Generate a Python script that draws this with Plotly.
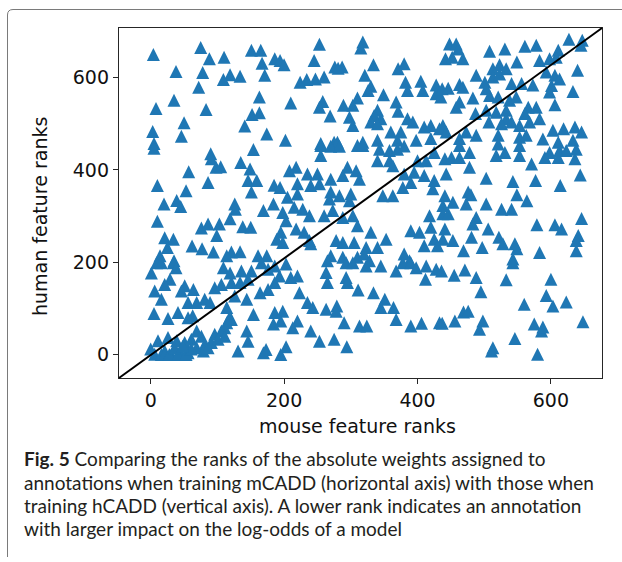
import plotly.graph_objects as go

# ---- data: (mouse feature rank, human feature rank) ----
mouse_rank = [
    # top-left block
    4, 75, 38, 88, 110, 78, 119, 109, 134, 151, 165, 167, 186, 171, 72, 163, 35, 8, 83, 152, 163, 50, 141, 3, 46, 174, 5,
    # top-middle block
    253, 318, 315, 194, 200, 245, 276, 287, 281, 334, 371, 380, 224, 234, 247, 260, 321, 382, 405, 428, 330, 326, 210, 258,
    253, 310, 349, 385, 408, 428, 435, 289, 303, 269, 340, 335, 345, 368, 371, 298, 303, 330, 340, 385, 393, 410, 420, 433,
    360, 375, 202, 255, 275, 280, 318, 340, 370, 398, 420,
    # top-right block
    448, 458, 461, 442, 452, 468, 508, 531, 561, 578, 627, 647, 645, 611, 608, 583, 598, 549, 523, 513, 533, 640, 488, 513,
    523, 593, 606, 613, 437, 446, 463, 468, 501, 503, 541, 556, 573, 601, 598, 633, 483, 508, 521, 538, 548, 566, 578, 561,
    606, 458, 463, 487, 503, 518, 533, 533, 507, 526, 541, 553, 568, 583, 438, 443, 473, 488, 463, 521, 553, 563, 603, 619,
    636, 646, 588, 611, 633,
    # middle-left block
    5, 90, 91, 98, 105, 154, 135, 149, 146, 159, 151, 185, 57, 86, 10, 53, 20, 39, 45, 126, 127, 169, 184, 119, 10, 76, 86,
    103, 99, 138, 150, 21, 34, 25, 62, 77, 94, 121, 134, 114, 161, 174, 189, 14, 35,
    # centre block
    255, 270, 283, 310, 318, 255, 343, 358, 370, 380, 340, 358, 363, 400, 413, 425, 208, 218, 235, 250, 270, 295, 308, 288,
    313, 380, 395, 390, 378, 410, 425, 423, 220, 240, 253, 220, 205, 270, 268, 283, 300, 298, 348, 363, 194, 215, 228, 238,
    260, 273, 198, 203, 288, 303, 310, 218, 230, 195, 198, 240, 238, 278, 288, 330, 353, 305, 323, 340, 270, 288, 310, 320,
    380, 388, 390, 403, 420, 418, 425, 430, 410,
    # middle-right block
    463, 478, 441, 451, 463, 518, 531, 521, 553, 553, 571, 591, 598, 611, 613, 623, 636, 638, 478, 443, 503, 543, 577, 614,
    644, 476, 480, 441, 453, 438, 473, 503, 549, 564, 526, 541, 438, 446, 488, 483, 441, 506, 579, 606, 616, 646, 481, 453,
    438, 522, 528, 546, 549, 497, 469, 583, 638, 641, 638, 543,
    # bottom-left block
    1, 9, 16, 34, 38, 29, 21, 6, 16, 51, 64, 46, 56, 5, 26, 41, 56, 63, 69, 81, 89, 96, 106, 109, 119, 136, 151, 166, 176,
    186, 121, 134, 146, 126, 144, 164, 176, 186, 114, 121, 111, 154, 186, 184, 144, 146, 131, 169, 173,
    0, 6, 11, 21, 26, 31, 39, 44, 51, 56, 61, 69, 76, 81, 69, 91, 96, 106, 114, 118, 16, 21, 28, 41, 53, 79, 86, 61, 36, 48,
    101, 111,
    # bottom-middle block
    203, 193, 265, 263, 265, 293, 303, 293, 295, 323, 328, 345, 368, 378, 390, 398, 413, 428, 210, 220, 412, 223, 235, 243,
    263, 279, 278, 311, 334, 351, 345, 364, 368, 198, 195, 220, 213, 290, 313, 324, 390, 406, 240, 253, 275, 294, 203, 195,
    433,
    # bottom-right block
    543, 436, 455, 471, 488, 533, 600, 495, 593, 603, 623, 560, 469, 476, 437, 456, 498, 493, 575, 586, 588, 648, 546, 513,
    511, 580,
]

human_rank = [
    # top-left block
    650, 665, 613, 641, 644, 611, 606, 596, 603, 659, 659, 631, 641, 605, 579, 558, 551, 533, 531, 520, 524, 502, 495, 483,
    473, 478, 457,
    # top-middle block
    672, 677, 664, 637, 628, 637, 623, 623, 620, 628, 619, 630, 590, 596, 597, 601, 605, 590, 592, 584, 581, 572, 545, 548,
    536, 556, 563, 572, 572, 565, 558, 540, 540, 517, 529, 518, 511, 547, 527, 514, 496, 504, 500, 511, 504, 493, 496, 489,
    482, 482, 464, 457, 460, 460, 460, 464, 464, 464, 468,
    # top-right block
    673, 673, 662, 641, 644, 641, 657, 662, 668, 670, 683, 681, 670, 659, 644, 637, 641, 634, 628, 619, 619, 616, 605, 601,
    608, 612, 605, 597, 576, 577, 585, 579, 590, 576, 587, 587, 584, 583, 569, 570, 556, 561, 558, 551, 558, 536, 536, 522,
    541, 536, 547, 522, 529, 525, 529, 511, 504, 500, 504, 496, 504, 511, 496, 482, 482, 475, 468, 475, 471, 475, 486, 489,
    493, 482, 467, 460, 464,
    # middle-left block
    447, 435, 424, 406, 407, 444, 416, 402, 377, 377, 352, 367, 396, 373, 366, 355, 326, 334, 321, 326, 315, 312, 326, 294,
    289, 274, 283, 283, 258, 277, 276, 253, 250, 232, 235, 229, 222, 222, 223, 214, 214, 214, 250, 214, 203,
    # centre block
    453, 451, 451, 453, 453, 431, 445, 442, 445, 452, 420, 420, 409, 420, 420, 438, 398, 406, 391, 391, 380, 406, 398, 388,
    380, 391, 395, 373, 362, 388, 377, 359, 370, 366, 370, 348, 341, 352, 337, 344, 348, 333, 344, 344, 362, 319, 315, 301,
    301, 312, 308, 290, 297, 301, 279, 272, 265, 265, 243, 240, 247, 247, 243, 265, 250, 243, 232, 232, 214, 211, 211, 218,
    218, 203, 268, 265, 276, 301, 250, 236, 236,
    # middle-right block
    453, 438, 424, 427, 427, 431, 438, 456, 431, 453, 413, 427, 438, 427, 442, 442, 424, 445, 406, 391, 382, 375, 377, 366,
    389, 352, 346, 344, 330, 323, 326, 326, 346, 333, 315, 315, 305, 305, 297, 283, 272, 272, 281, 281, 272, 295, 254, 247,
    250, 254, 240, 240, 229, 232, 225, 221, 225, 258, 247, 207,
    # bottom-left block
    177, 199, 199, 199, 188, 163, 152, 138, 120, 149, 141, 138, 113, 89, 78, 91, 80, 84, 113, 120, 113, 145, 152, 188, 177,
    181, 181, 199, 185, 192, 156, 156, 163, 127, 120, 134, 141, 156, 102, 76, 58, 87, 91, 66, 51, 29, 8, 4, 11,
    12, 1, 30, 8, 37, 1, 30, 8, 26, 4, 33, 15, 40, 22, 51, 26, 44, 51, 69, 80, 0, 0, 0, 0, 0, 8, 15, 12, 15, 18,
    33, 40,
    # bottom-middle block
    196, 170, 203, 178, 156, 199, 199, 167, 156, 192, 203, 192, 181, 199, 199, 188, 192, 185, 167, 170, 163, 134, 113, 102,
    98, 105, 94, 140, 134, 120, 102, 102, 76, 94, 73, 73, 58, 69, 62, 62, 62, 68, 51, 29, 33, 17, 17, 0,
    69,
    # bottom-right block
    199, 181, 172, 183, 167, 162, 163, 136, 128, 105, 114, 109, 92, 94, 68, 73, 73, 55, 66, 51, 60, 71, 35, 15,
    8, 1,
]

x_tick_vals = [0, 200, 400, 600]
y_tick_vals = [0, 200, 400, 600]
x_title = "mouse feature ranks"
y_title = "human feature ranks"
caption_lines = [
    "<b>Fig. 5</b> Comparing the ranks of the absolute weights assigned to",
    "annotations when training mCADD (horizontal axis) with those when",
    "training hCADD (vertical axis). A lower rank indicates an annotation",
    "with larger impact on the log-odds of a model",
]

# ---- geometry (pixels) ----
W, H = 622, 562
L, R, T, B = 119, 20, 28, 184
PW, PH = W - L - R, H - T - B


def px(xp):
    return (xp - L) / PW


def py(yp):
    return (H - B - yp) / PH


BLUE = "#1f77b4"
AX = "#262626"
MS = 13

fig = go.Figure()
fig.add_trace(go.Scatter(
    x=mouse_rank, y=human_rank, mode="markers",
    marker=dict(symbol="arrow-down", angle=180, standoff=MS / 2, size=MS,
                color=BLUE, line=dict(width=0)),
    hoverinfo="x+y", showlegend=False,
))

axis_common = dict(
    showgrid=False, zeroline=False, showline=True, mirror=True,
    linecolor=AX, linewidth=1.3, ticks="outside", ticklen=5, tickwidth=1.3,
    tickcolor=AX, tickfont=dict(family="DejaVu Sans", size=19, color="#111"),
)
fig.update_xaxes(range=[-47.5, 676.6], tickvals=x_tick_vals, **axis_common)
fig.update_yaxes(range=[-50.7, 707.4], tickvals=y_tick_vals, **axis_common)

shapes = [
    dict(type="line", xref="x domain", yref="y domain", x0=0, y0=0, x1=1, y1=1,
         line=dict(color="black", width=2), layer="above"),
    dict(type="path", xref="paper", yref="paper",
         path=(f"M {px(7.5)},{py(557)} L {px(7.5)},{py(15)} "
               f"Q {px(7.5)},{py(9.5)} {px(13)},{py(9.5)} L {px(622)},{py(9.5)}"),
         line=dict(color="#7a7a7a", width=1)),
]

annotations = [
    dict(text=x_title, xref="paper", yref="paper", x=px(357.5), y=py(426),
         xanchor="center", yanchor="middle", showarrow=False,
         font=dict(family="DejaVu Sans", size=19, color="#111")),
    dict(text=y_title, xref="paper", yref="paper", x=px(40), y=py(217),
         xanchor="center", yanchor="middle", showarrow=False, textangle=-90,
         font=dict(family="DejaVu Sans", size=19, color="#111")),
]
for i, line in enumerate(caption_lines):
    annotations.append(dict(
        text=line, xref="paper", yref="paper", x=px(22), y=py(459 + 23.2 * i),
        xanchor="left", yanchor="middle", showarrow=False, align="left",
        font=dict(family="Lato", size=19, color="#231f20")))

fig.update_layout(
    width=W, height=H, margin=dict(l=L, r=R, t=T, b=B, pad=0),
    paper_bgcolor="white", plot_bgcolor="white",
    shapes=shapes, annotations=annotations,
)

fig.write_html("out.html", config={"displayModeBar": False},
               post_script="document.body.style.margin='0';document.body.style.overflow='hidden';")
